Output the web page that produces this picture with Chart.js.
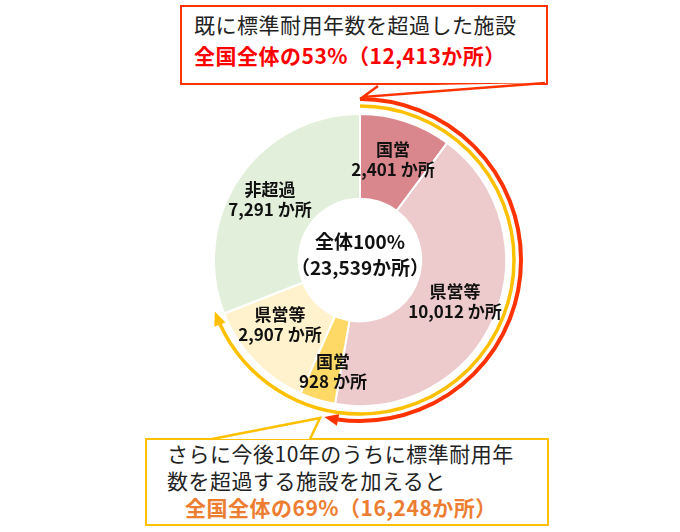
<!DOCTYPE html>
<html><head><meta charset="utf-8">
<script src="https://cdn.jsdelivr.net/npm/chart.js@4"></script>
<style>
body{margin:0;background:#fff;font-family:"Noto Sans CJK JP",sans-serif;}
#wrap{position:relative;width:680px;height:532px;}
canvas{position:absolute;left:0;top:0;z-index:1;}
.box{position:absolute;background:#fff;z-index:0;box-sizing:border-box;white-space:nowrap;}
#top{left:180px;top:5px;width:368px;height:80px;border:2.5px solid #ff3300;padding:2px 0 0 12px;font-size:21px;line-height:31px;color:#222;letter-spacing:0.5px;}
#bot{left:145px;top:438px;width:404px;height:88px;border:2.5px solid #ffc000;padding:0 0 0 20px;font-size:21px;line-height:27px;color:#222;letter-spacing:0.5px;}
.red{color:#ff0000;font-weight:bold;}
.org{color:#ed7d31;font-weight:bold;padding-left:18px;}
</style></head>
<body><div id="wrap">
<div class="box" id="top">既に標準耐用年数を超過した施設<br><span class="red">全国全体の53%（12,413か所）</span></div>
<div class="box" id="bot">さらに今後10年のうちに標準耐用年<br>数を超過する施設を加えると<br><span class="org">全国全体の69%（16,248か所）</span></div>
<canvas id="c" width="680" height="532"></canvas>
</div>
<script>
const categories = ['国営', '県営等', '国営', '県営等', '非超過'];
const counts = [2401, 10012, 928, 2907, 7291];
const colors = ['#d9878d', '#edcacb', '#ffd966', '#fff2cc', '#e2efda'];
const overShare = 0.53;   // 12,413か所
const soonShare = 0.69;   // 16,248か所
const labelPos = [[393,150],[455,292],[333,362],[280,315],[270,190]];

function arrowArc(ctx, cx, cy, r, share, color, w) {
    const a0 = -Math.PI / 2, a1 = a0 + share * 2 * Math.PI - 0.05;
    ctx.save();
    ctx.strokeStyle = color; ctx.fillStyle = color; ctx.lineWidth = w;
    ctx.beginPath(); ctx.arc(cx, cy, r, a0, a1); ctx.stroke();
    const ae = a1 + 0.06;
    const tx = cx + r * Math.cos(ae), ty = cy + r * Math.sin(ae);
    const dx = -Math.sin(ae), dy = Math.cos(ae);
    const nx = Math.cos(ae), ny = Math.sin(ae);
    ctx.beginPath();
    ctx.moveTo(tx + dx * 4, ty + dy * 4);
    ctx.lineTo(tx - dx * 10 + nx * 6, ty - dy * 10 + ny * 6);
    ctx.lineTo(tx - dx * 10 - nx * 6, ty - dy * 10 - ny * 6);
    ctx.closePath(); ctx.fill();
    ctx.restore();
}

function tail(ctx, pts, color) {
    ctx.save();
    ctx.fillStyle = '#fff';
    ctx.beginPath(); ctx.moveTo(pts[0][0], pts[0][1]); ctx.lineTo(pts[1][0], pts[1][1]); ctx.lineTo(pts[2][0], pts[2][1]); ctx.closePath(); ctx.fill();
    ctx.strokeStyle = color; ctx.lineWidth = 2.5;
    ctx.beginPath(); ctx.moveTo(pts[0][0], pts[0][1]); ctx.lineTo(pts[1][0], pts[1][1]); ctx.lineTo(pts[2][0], pts[2][1]); ctx.stroke();
    ctx.restore();
}

const extras = {
    id: 'extras',
    afterDraw(chart) {
        const ctx = chart.ctx;
        const arc = chart.getDatasetMeta(0).data[0];
        const cx = arc.x, cy = arc.y, R = arc.outerRadius;
        arrowArc(ctx, cx, cy, R + 15, overShare, '#ff3300', 4);
        arrowArc(ctx, cx, cy, R + 8, soonShare, '#ffc000', 3.5);
        tail(ctx, [[378, 86], [363, 97], [545, 83]], '#ff3300');
        tail(ctx, [[212, 439], [320, 418], [310, 439]], '#ffc000');
        ctx.save();
        ctx.fillStyle = '#111'; ctx.textAlign = 'center'; ctx.textBaseline = 'middle';
        ctx.font = 'bold 17px "Noto Sans CJK JP"';
        counts.forEach((v, i) => {
            const [x, y] = labelPos[i];
            ctx.fillText(categories[i], x, y);
            ctx.fillText(v.toLocaleString('en-US') + ' か所', x, y + 20);
        });
        const total = counts.reduce((a, b) => a + b, 0);
        ctx.font = 'bold 19px "Noto Sans CJK JP"';
        ctx.fillText('全体100%', cx, cy - 18);
        ctx.fillText('（' + total.toLocaleString('en-US') + 'か所）', cx, cy + 8);
        ctx.restore();
    }
};

new Chart(document.getElementById('c'), {
    type: 'doughnut',
    data: {
        labels: categories,
        datasets: [{ data: counts, backgroundColor: colors, borderColor: '#fff', borderWidth: 2 }]
    },
    options: {
        responsive: false,
        animation: false,
        cutout: '42%',
        layout: { padding: { left: 213, right: 173, top: 113, bottom: 125 } },
        plugins: { legend: { display: false }, tooltip: { enabled: false } }
    },
    plugins: [extras]
});
</script>
</body></html>
